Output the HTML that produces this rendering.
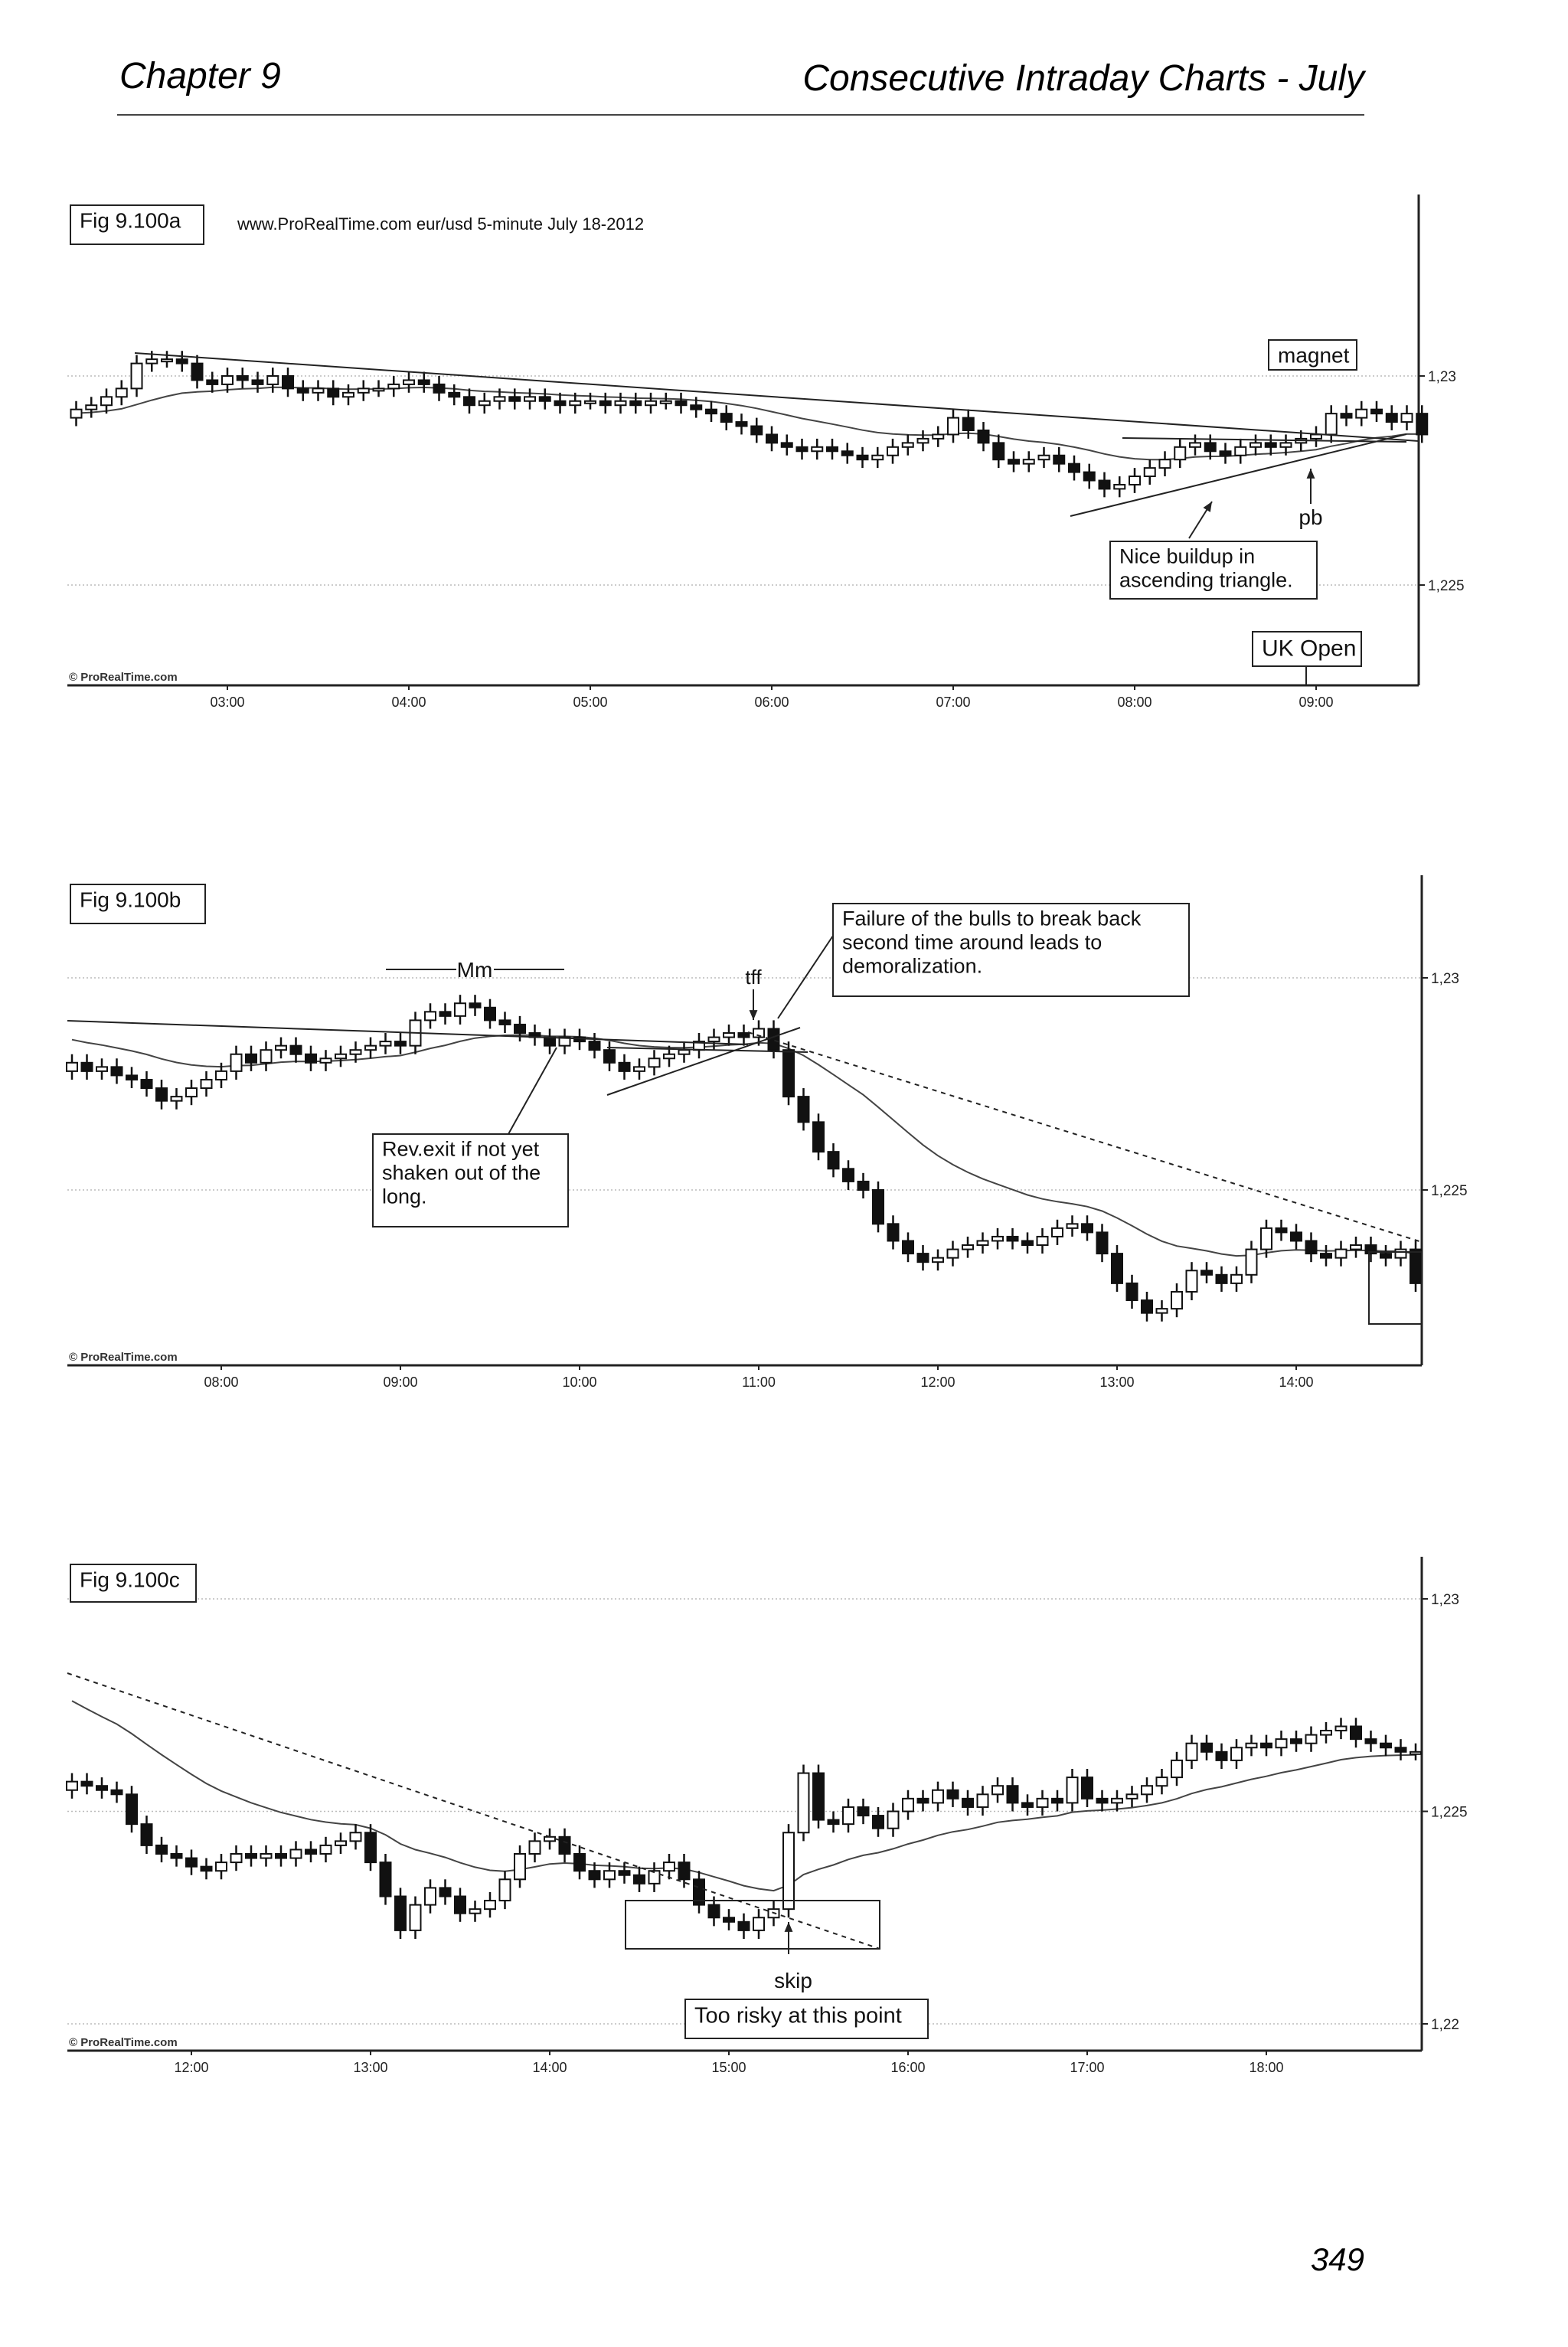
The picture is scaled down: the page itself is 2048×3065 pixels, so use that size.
<!DOCTYPE html>
<html><head><meta charset="utf-8">
<style>
html,body{margin:0;padding:0;background:#fff;}
body{width:2048px;height:3065px;position:relative;overflow:hidden;font-family:"Liberation Sans",sans-serif;}
svg{position:absolute;left:0;top:0;}
</style></head>
<body>
<svg id="page" width="2048" height="3065" viewBox="0 0 2048 3065">
  <text x="156" y="115" font-size="48" font-style="italic" font-family="Liberation Sans, sans-serif">Chapter 9</text>
  <text x="1782" y="118" font-size="48" font-style="italic" text-anchor="end" font-family="Liberation Sans, sans-serif">Consecutive Intraday Charts - July</text>
  <line x1="153" y1="150" x2="1782" y2="150" stroke="#444" stroke-width="2"/>
  <text x="1782" y="2965" font-size="42" font-style="italic" text-anchor="end">349</text>
  <g id="charts"></g>
</svg>
<script>
// ---------- Chart A data (eur/usd 5-min, start 02:10) ----------
const startA = 2 + 10/60;
const closesA = [1.2292,1.2293,1.2295,1.2297,1.2303,1.2304,1.2304,1.2303,1.2299,1.2298,
1.2300,1.2299,1.2298,1.2300,1.2297,1.2296,1.2297,1.2295,1.2296,1.2297,1.2297,1.2298,
1.2299,1.2298,1.2296,1.2295,1.2293,1.2294,1.2295,1.2294,1.2295,1.2294,1.2293,1.2294,
1.2294,1.2293,1.2294,1.2293,1.2294,1.2294,1.2293,1.2292,1.2291,1.2289,1.2288,1.2286,
1.2284,1.2283,1.2282,1.2283,1.2282,1.2281,1.2280,1.2281,1.2283,1.2284,1.2285,1.2286,
1.2290,1.2287,1.2284,1.2280,1.2279,1.2280,1.2281,1.2279,1.2277,1.2275,1.2273,1.2274,
1.2276,1.2278,1.2280,1.2283,1.2284,1.2282,1.2281,1.2283,1.2284,1.2283,1.2284,1.2285,
1.2286,1.2291,1.2290,1.2292,1.2291,1.2289,1.2291,1.2286];
const ticksA = ["03:00","04:00","05:00","06:00","07:00","08:00","09:00"];
const tickHoursA = [3,4,5,6,7,8,9];
const priceTicksA = [1.23,1.225];
const priceLabelsA = ["1,23","1,225"];
const maStartA = 1.2291;

// ---------- Chart B data (start 07:10) ----------
const startB = 7 + 10/60;
const closesB = [1.2280,1.2278,1.2279,1.2277,1.2276,1.2274,1.2271,1.2272,1.2274,1.2276,
1.2278,1.2282,1.2280,1.2283,1.2284,1.2282,1.2280,1.2281,1.2282,1.2283,1.2284,1.2285,
1.2284,1.2290,1.2292,1.2291,1.2294,1.2293,1.2290,1.2289,1.2287,1.2286,1.2284,1.2286,
1.2285,1.2283,1.2280,1.2278,1.2279,1.2281,1.2282,1.2283,1.2285,1.2286,1.2287,1.2286,
1.2288,1.2283,1.2272,1.2266,1.2259,1.2255,1.2252,1.2250,1.2242,1.2238,1.2235,1.2233,
1.2234,1.2236,1.2237,1.2238,1.2239,1.2238,1.2237,1.2239,1.2241,1.2242,1.2240,1.2235,
1.2228,1.2224,1.2221,1.2222,1.2226,1.2231,1.2230,1.2228,1.2230,1.2236,1.2241,1.2240,
1.2238,1.2235,1.2234,1.2236,1.2237,1.2235,1.2234,1.2236,1.2228];
const ticksB = ["08:00","09:00","10:00","11:00","12:00","13:00","14:00"];
const tickHoursB = [8,9,10,11,12,13,14];
const priceTicksB = [1.23,1.225];
const priceLabelsB = ["1,23","1,225"];
const maStartB = 1.2286;

// ---------- Chart C data (start 11:20) ----------
const startC = 11 + 20/60;
const closesC = [1.2257,1.2256,1.2255,1.2254,1.2247,1.2242,1.2240,1.2239,
1.2237,1.2236,1.2238,1.2240,1.2239,1.2240,1.2239,1.2241,1.2240,1.2242,1.2243,1.2245,
1.2238,1.2230,1.2222,1.2228,1.2232,1.2230,1.2226,1.2227,1.2229,1.2234,1.2240,1.2243,
1.2244,1.2240,1.2236,1.2234,1.2236,1.2235,1.2233,1.2236,1.2238,1.2234,1.2228,1.2225,
1.2224,1.2222,1.2225,1.2227,1.2245,1.2259,1.2248,1.2247,1.2251,1.2249,1.2246,1.2250,
1.2253,1.2252,1.2255,1.2253,1.2251,1.2254,1.2256,1.2252,1.2251,1.2253,1.2252,1.2258,
1.2253,1.2252,1.2253,1.2254,1.2256,1.2258,1.2262,1.2266,1.2264,1.2262,1.2265,1.2266,
1.2265,1.2267,1.2266,1.2268,1.2269,1.2270,1.2267,1.2266,1.2265,1.2264,1.2264];
const ticksC = ["12:00","13:00","14:00","15:00","16:00","17:00","18:00"];
const tickHoursC = [12,13,14,15,16,17,18];
const priceTicksC = [1.23,1.225,1.22];
const priceLabelsC = ["1,23","1,225","1,22"];
const maStartC = 1.2278;

const NS = "http://www.w3.org/2000/svg";
const root = document.getElementById('charts');
function mk(tag, attrs, parent){
  const e = document.createElementNS(NS, tag);
  for (const k in attrs) e.setAttribute(k, attrs[k]);
  (parent||root).appendChild(e);
  return e;
}

function drawChart(cfg){
  const g = mk('g', {});
  
  
  const X = h => cfg.x0 + (h - cfg.h0) * cfg.pxh;
  const Y = p => cfg.y0 + (cfg.p0 - p) / 0.005 * cfg.pxp;
  cfg.priceTicks.forEach((p, i) => {
    const gl = mk('line', {x1: cfg.left, x2: cfg.right, y1: Y(p), y2: Y(p), stroke: '#bbb', 'stroke-width': 1.5, 'stroke-dasharray': '2 3'}, g);
    
    
    const tk = mk('line', {x1: cfg.right, x2: cfg.right + 8, y1: Y(p), y2: Y(p), stroke: '#222', 'stroke-width': 2}, g);
    
    
    const tl = mk('text', {x: cfg.right + 12, y: Y(p) + 7, 'font-size': 19, fill: '#222'}, g);
    tl.textContent = cfg.priceLabels[i];
    
    
  });
  const ax = mk('line', {x1: cfg.left, x2: cfg.right, y1: cfg.bottom, y2: cfg.bottom, stroke: '#222', 'stroke-width': 3}, g);
  
  
  const ay = mk('line', {x1: cfg.right, x2: cfg.right, y1: cfg.top, y2: cfg.bottom, stroke: '#222', 'stroke-width': 3}, g);
  
  
  cfg.tickHours.forEach((h, i) => {
    const t = mk('line', {x1: X(h), x2: X(h), y1: cfg.bottom, y2: cfg.bottom + 6, stroke: '#222', 'stroke-width': 2}, g);
    
    
    const tl = mk('text', {x: X(h), y: cfg.bottom + 28, 'font-size': 18, 'text-anchor': 'middle', fill: '#222'}, g);
    tl.textContent = cfg.ticks[i];
    
    
  });
  const cp = mk('text', {x: cfg.left + 2, y: cfg.bottom - 6, 'font-size': 15, 'font-weight': 'bold', fill: '#333'}, g);
  cp.textContent = '© ProRealTime.com';
  
  
  let ema = cfg.maStart, pts = [];
  const k = 2 / 21;
  cfg.closes.forEach((c, i) => {
    ema = ema + k * (c - ema);
    pts.push(X(cfg.start + i / 12).toFixed(1) + ',' + Y(ema).toFixed(1));
  });
  const ma = mk('polyline', {points: pts.join(' '), fill: 'none', stroke: '#444', 'stroke-width': 2}, g);
  
  
  const w = 14, wick = 0.0002;
  cfg.closes.forEach((c, i) => {
    const o = i === 0 ? c - 0.0002 : cfg.closes[i - 1];
    const x = X(cfg.start + i / 12);
    const hi = Math.max(o, c) + wick, lo = Math.min(o, c) - wick;
    const cg = mk('g', {}, g);
    
    
    mk('line', {x1: x, x2: x, y1: Y(hi), y2: Y(lo), stroke: '#111', 'stroke-width': 2.5}, cg);
    const top = Y(Math.max(o, c)), bot = Y(Math.min(o, c));
    mk('rect', {x: x - w / 2, y: top, width: w, height: Math.max(3, bot - top), fill: c >= o ? '#fff' : '#111', stroke: '#111', 'stroke-width': 2}, cg);
  });
  return g;
}
function box(g, x, y, w, h, lines, fs, name){
  const b = mk('g', {}, g);
  
  
  mk('rect', {x: x, y: y, width: w, height: h, fill: '#fff', stroke: '#222', 'stroke-width': 2}, b);
  lines.forEach((t, i) => {
    const tx = mk('text', {x: x + 12, y: y + fs * 1.05 + i * fs * 1.15, 'font-size': fs, fill: '#111'}, b);
    tx.textContent = t;
  });
}
function ln(g, x1, y1, x2, y2, name, dash, sw){
  const l = mk('line', {x1: x1, y1: y1, x2: x2, y2: y2, stroke: '#222', 'stroke-width': sw || 2, 'stroke-dasharray': dash || 'none'}, g);
  
  
}
function arrow(g, x1, y1, x2, y2, name){
  ln(g, x1, y1, x2, y2, name);
  const a = Math.atan2(y2 - y1, x2 - x1), L = 14;
  const p = [x2, y2, x2 - L * Math.cos(a - 0.4), y2 - L * Math.sin(a - 0.4), x2 - L * Math.cos(a + 0.4), y2 - L * Math.sin(a + 0.4)];
  const h = mk('polygon', {points: p.join(','), fill: '#222'}, g);
  
  
}
function txt(g, x, y, s, fs, name, anchor){
  const t = mk('text', {x: x, y: y, 'font-size': fs, fill: '#111', 'text-anchor': anchor || 'start'}, g);
  t.textContent = s;
  
  
}

const A = {name: 'chart-fig-9-100a', left: 88, right: 1853, top: 254, bottom: 895, x0: 297, h0: 3, pxh: 237, y0: 491, p0: 1.23, pxp: 273,
  closes: closesA, start: startA, ticks: ticksA, tickHours: tickHoursA, priceTicks: priceTicksA, priceLabels: priceLabelsA, maStart: maStartA};
const gA = drawChart(A);
box(gA, 92, 268, 174, 51, ['Fig 9.100a'], 28, 'fig-label-a');
txt(gA, 310, 300, 'www.ProRealTime.com     eur/usd 5-minute  July 18-2012', 22, 'chart-subtitle');
ln(gA, 176, 461, 1853, 576, 'trendline-down');
ln(gA, 1398, 674, 1837, 567, 'triangle-support');
ln(gA, 1466, 572, 1837, 577, 'triangle-resistance');
arrow(gA, 1553, 703, 1583, 655, 'buildup-arrow');
arrow(gA, 1712, 658, 1712, 612, 'pb-arrow');
txt(gA, 1712, 685, 'pb', 28, 'pb-label', 'middle');
box(gA, 1657, 444, 115, 39, ['magnet'], 28, 'magnet-label');
box(gA, 1450, 707, 270, 75, ['Nice buildup in', 'ascending triangle.'], 27, 'buildup-note');
box(gA, 1636, 825, 142, 45, ['UK Open'], 30, 'uk-open-label');
ln(gA, 1706, 870, 1706, 895, 'uk-open-tick');

const B = {name: 'chart-fig-9-100b', left: 88, right: 1857, top: 1143, bottom: 1783, x0: 289, h0: 8, pxh: 234, y0: 1277, p0: 1.23, pxp: 277,
  closes: closesB, start: startB, ticks: ticksB, tickHours: tickHoursB, priceTicks: priceTicksB, priceLabels: priceLabelsB, maStart: maStartB};
const gB = drawChart(B);
box(gB, 92, 1155, 176, 51, ['Fig 9.100b'], 28, 'fig-label-b');
ln(gB, 504, 1266, 596, 1266, 'mm-line-left');
ln(gB, 645, 1266, 737, 1266, 'mm-line-right');
txt(gB, 620, 1276, 'Mm', 28, 'mm-label', 'middle');
txt(gB, 984, 1285, 'tff', 26, 'tff-label', 'middle');
arrow(gB, 984, 1292, 984, 1332, 'tff-arrow');
ln(gB, 88, 1333, 977, 1364, 'trendline-long');
ln(gB, 793, 1430, 1045, 1342, 'triangle-up-line');
ln(gB, 793, 1368, 1055, 1374, 'triangle-flat-line');
ln(gB, 977, 1348, 1857, 1622, 'dotted-trendline', '6 6');
ln(gB, 1088, 1222, 1016, 1330, 'failure-pointer');
ln(gB, 664, 1481, 727, 1368, 'rev-pointer');
box(gB, 1088, 1180, 465, 121, ['Failure of the bulls to break back', 'second time around leads to', 'demoralization.'], 27, 'failure-note');
box(gB, 487, 1481, 255, 121, ['Rev.exit if not yet', 'shaken out of the', 'long.'], 27, 'rev-note');
const sq = mk('rect', {x: 1788, y: 1635, width: 69, height: 94, fill: 'none', stroke: '#222', 'stroke-width': 2}, gB);



const C = {name: 'chart-fig-9-100c', left: 88, right: 1857, top: 2033, bottom: 2678, x0: 250, h0: 12, pxh: 234, y0: 2088, p0: 1.23, pxp: 277.5,
  closes: closesC, start: startC, ticks: ticksC, tickHours: tickHoursC, priceTicks: priceTicksC, priceLabels: priceLabelsC, maStart: maStartC};
const gC = drawChart(C);
box(gC, 92, 2043, 164, 49, ['Fig 9.100c'], 28, 'fig-label-c');
ln(gC, 88, 2185, 1149, 2545, 'dotted-trendline', '6 6');
const sqc = mk('rect', {x: 817, y: 2482, width: 332, height: 63, fill: 'none', stroke: '#222', 'stroke-width': 2}, gC);


arrow(gC, 1030, 2552, 1030, 2510, 'skip-arrow');
txt(gC, 1036, 2596, 'skip', 28, 'skip-label', 'middle');
box(gC, 895, 2611, 317, 51, ['Too risky at this point'], 29, 'risk-note');
</script>
</body></html>
